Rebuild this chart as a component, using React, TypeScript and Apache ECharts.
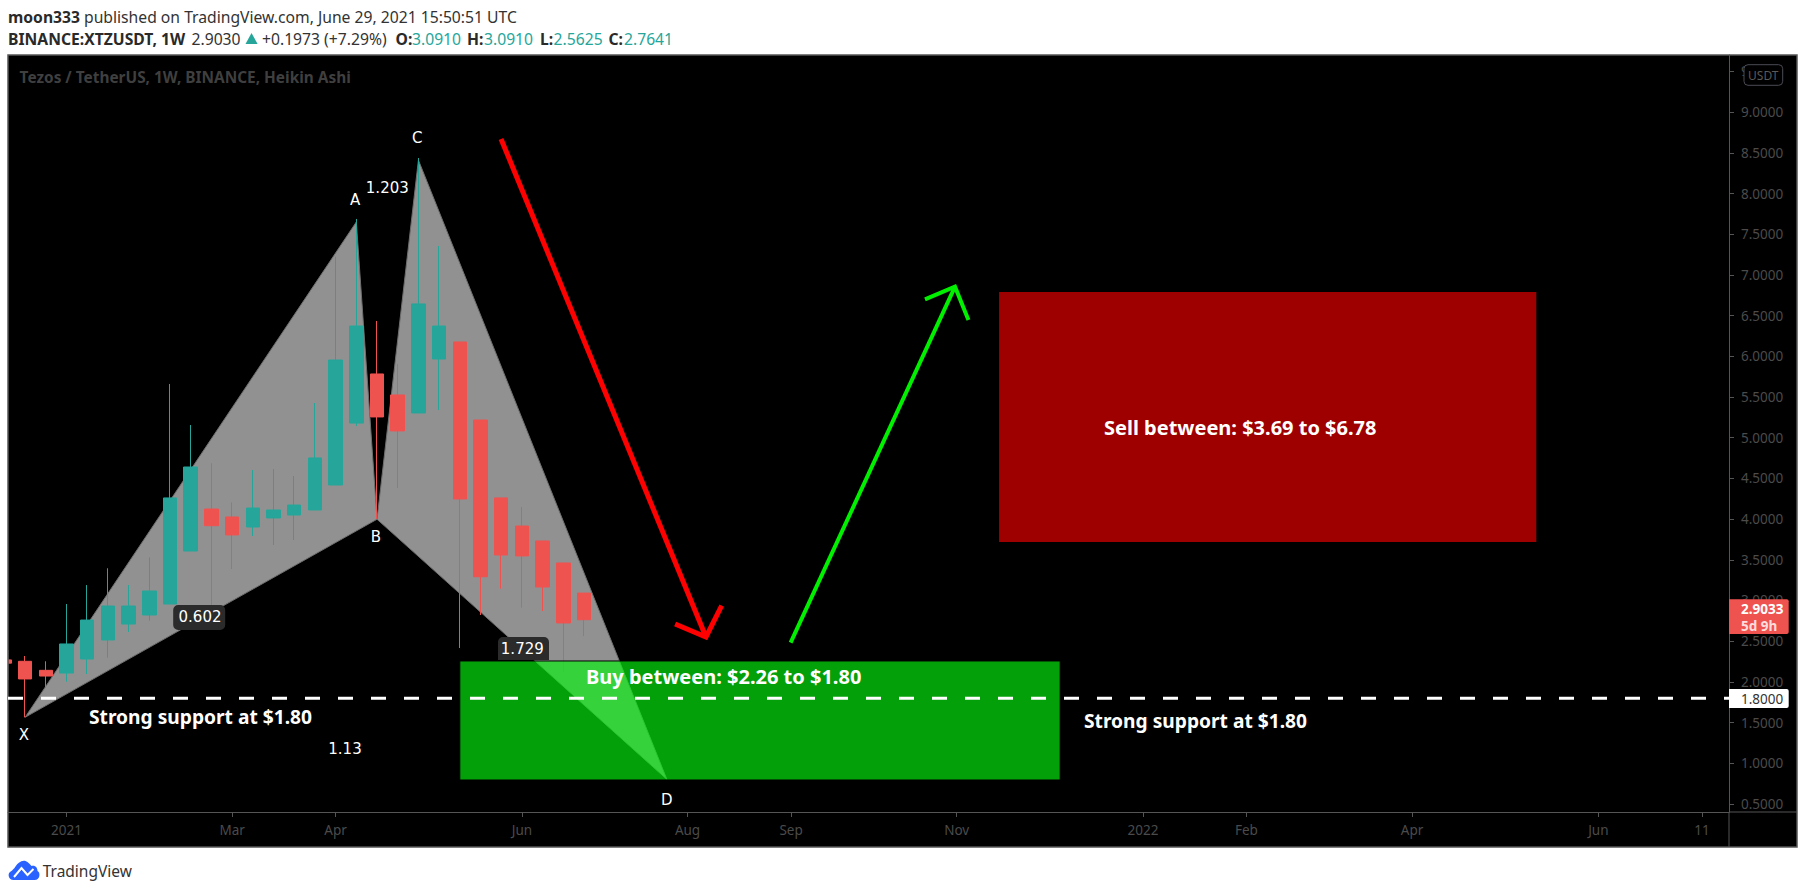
import React, { useEffect, useRef } from "react";
import * as echarts from "echarts";

// The horizontal axis counts weeks from the candle of Monday 4 January 2021 (week 0)
// Weekly Heikin Ashi candles: the first candle is three weeks before week 0
const firstWeek = -3;
const opens = [2.27, 2.253, 2.142, 2.109, 2.281, 2.515, 2.711, 2.822, 2.957, 3.608, 4.124, 4.026, 3.903, 4.014, 4.05, 4.112, 4.419, 5.18, 5.783, 5.525, 5.304, 5.967, 6.176, 5.217, 4.26, 3.915, 3.731, 3.461, 3.091];
const closes = [2.23, 2.036, 2.072, 2.466, 2.76, 2.932, 2.932, 3.117, 4.26, 4.64, 3.919, 3.805, 4.136, 4.112, 4.173, 4.751, 5.954, 6.372, 5.255, 5.083, 6.643, 6.372, 4.247, 3.292, 3.559, 3.547, 3.166, 2.724, 2.7641];
const lows = [2.23, 1.565, 1.934, 2.002, 2.097, 2.297, 2.613, 2.752, 2.957, 3.608, 2.908, 3.387, 3.792, 3.682, 3.743, 4.112, 4.419, 5.143, 4.002, 4.382, 5.304, 5.34, 2.416, 2.822, 3.145, 2.912, 2.871, 2.122, 2.5625];
const highs = [2.27, 2.318, 2.253, 2.957, 3.19, 3.396, 3.19, 3.531, 5.66, 5.156, 4.686, 4.206, 4.603, 4.615, 4.529, 5.426, 7.224, 7.687, 6.434, 5.906, 8.436, 7.355, 6.176, 5.217, 4.26, 4.149, 3.731, 3.461, 3.091];

// Harmonic pattern pivots [week, price]
const pivotX = [-2, 1.565];
const pivotA = [14, 7.65];
const pivotB = [15, 3.998];
const pivotC = [17, 8.41];
const pivotD = [29, 0.803];

// Zones [fromWeek, toWeek, lowPrice, highPrice]
const buyZone = [19, 48, 0.795, 2.257];
const sellZone = [45.05, 71, 3.719, 6.79];

// Arrows, as lists of [week, price]
const redArrowShaft = [[20.99, 8.67], [30.89, 2.552]];
const redArrowHead = [[29.4, 2.711], [30.89, 2.552], [31.65, 2.936]];
const greenArrowShaft = [[34.98, 2.482], [42.92, 6.855]];
const greenArrowHead = [[41.47, 6.7], [42.92, 6.855], [43.57, 6.446]];

const supportLevel = 1.8;
const xMin = -2.826;
const xMax = 80.31;
const yMin = 0.4017;
const yMax = 9.7015;
const priceTicks = [0.5, 1, 1.5, 2, 2.5, 3, 3.5, 4, 4.5, 5, 5.5, 6, 6.5, 7, 7.5, 8, 8.5, 9, 9.5];
const timeTicks: [number, string][] = [
  [0, "2021"], [8, "Mar"], [13, "Apr"], [22, "Jun"], [30, "Aug"], [35, "Sep"], [43, "Nov"],
  [52, "2022"], [57, "Feb"], [65, "Apr"], [74, "Jun"], [79, "11"],
];

const TEAL = "#26a69a";
const RED = "#ef5350";
const AXIS = "#555555";
const AXIS_TEXT = "#4b4b4b";
const UI_FONT = '"Noto Sans", sans-serif';
const NOTE_FONT = '"DejaVu Sans", sans-serif';
const HEAD = 15.7;

const LOGO = "M6 20 C1 20 -1 13 4 11 C5 10 6 9 7 8 C10 3 14 0 18 1 C21 2 22 4 24 6 C28 5 30 8 30 11 C33 12 33 20 27 20 Z";
echarts.graphic.registerShape("tvLogo", echarts.graphic.extendPath(LOGO, {}) as any);

const txt = (text: string, x: number, y: number, fill: string, fontSize: number, fontWeight: any = "normal", fontFamily = UI_FONT, align: any = "left") => ({
  type: "text",
  x,
  y,
  z: 60,
  silent: true,
  style: { text, fill, fontSize, fontWeight, fontFamily, align, verticalAlign: "middle" },
});

const polygonSeries = (points: number[][], fill: string, z: number) => ({
  type: "custom",
  coordinateSystem: "cartesian2d",
  z,
  clip: true,
  silent: true,
  data: points,
  encode: { x: 0, y: 1 },
  renderItem: (params: any, api: any) => {
    if (params.dataIndex !== 0) return null;
    return {
      type: "polygon",
      shape: { points: points.map((p) => api.coord(p)) },
      style: { fill, stroke: "#6e6e6e", lineWidth: 1 },
    };
  },
});

const zoneSeries = (zone: number[], fill: string, stroke: string | null, z: number) => ({
  type: "custom",
  coordinateSystem: "cartesian2d",
  z,
  silent: true,
  data: [[zone[0], zone[2], zone[1], zone[3]]],
  encode: { x: [0, 2], y: [1, 3] },
  renderItem: (_: any, api: any) => {
    const a = api.coord([api.value(0), api.value(3)]);
    const b = api.coord([api.value(2), api.value(1)]);
    return {
      type: "rect",
      shape: { x: a[0], y: a[1], width: b[0] - a[0], height: b[1] - a[1] },
      style: stroke ? { fill, stroke, lineWidth: 1 } : { fill },
    };
  },
});

const lineSeries = (points: number[][], color: string, width: number, z: number, dash?: number[]) => ({
  type: "line",
  z,
  silent: true,
  symbol: "none",
  data: points,
  lineStyle: { color, width, type: dash || "solid", cap: "butt", join: "miter" },
});

export default function App() {
  const ref = useRef<HTMLDivElement>(null);
  useEffect(() => {
    document.body.style.margin = "0";
    const chart = echarts.init(ref.current!, null, { renderer: "svg" });
    chart.setOption({
      animation: false,
      backgroundColor: "#ffffff",
      grid: { left: 8, top: 55, width: 1721, height: 757, containLabel: false },
      xAxis: {
        type: "value",
        min: xMin,
        max: xMax,
        splitLine: { show: false },
        axisLine: { show: true, onZero: false, lineStyle: { color: AXIS, width: 1 } },
        axisTick: { show: true, length: 5, lineStyle: { color: AXIS }, customValues: timeTicks.map((t) => t[0]) },
        axisLabel: {
          color: AXIS_TEXT,
          fontSize: 13.5,
          fontFamily: UI_FONT,
          margin: 11,
          customValues: timeTicks.map((t) => t[0]),
          formatter: (v: number) => {
            const hit = timeTicks.find((t) => t[0] === v);
            return hit ? hit[1] : "";
          },
        },
      },
      yAxis: {
        type: "value",
        position: "right",
        min: yMin,
        max: yMax,
        splitLine: { show: false },
        axisLine: { show: true, onZero: false, lineStyle: { color: AXIS, width: 1 } },
        axisTick: { show: true, length: 5, lineStyle: { color: AXIS }, customValues: priceTicks },
        axisLabel: {
          color: AXIS_TEXT,
          fontSize: 13.5,
          fontFamily: UI_FONT,
          margin: 12,
          customValues: priceTicks,
          formatter: (v: number) => v.toFixed(4),
        },
      },
      series: [
        polygonSeries([pivotX, pivotA, pivotB], "#919191", 1),
        polygonSeries([pivotB, pivotC, pivotD], "#919191", 1),
        {
          type: "candlestick",
          z: 3,
          silent: true,
          barWidth: 14,
          data: opens.map((o, i) => [firstWeek + i, o, closes[i], lows[i], highs[i]]),
          itemStyle: { color: TEAL, color0: RED, borderColor: TEAL, borderColor0: RED, borderWidth: 1 },
        },
        zoneSeries(buyZone, "rgba(6,246,15,0.65)", "#000000", 5),
        zoneSeries(sellZone, "#9e0000", null, 5),
        lineSeries(redArrowShaft, "#ff0000", 5, 6),
        lineSeries(redArrowHead, "#ff0000", 5, 6),
        lineSeries(greenArrowShaft, "#00f000", 4, 6),
        lineSeries(greenArrowHead, "#00f000", 4, 6),
        lineSeries([[xMin, supportLevel], [xMax, supportLevel]], "#ffffff", 3, 7, [15, 18]),
      ],
      graphic: {
        elements: [
          { type: "rect", z: -1, silent: true, shape: { x: 8, y: 55, width: 1789, height: 792 }, style: { fill: "#000000", stroke: AXIS, lineWidth: 1.5 } },
          { type: "line", z: 1, silent: true, shape: { x1: 1729, y1: 812, x2: 1797, y2: 812 }, style: { stroke: AXIS, lineWidth: 1 } },
          { type: "line", z: 1, silent: true, shape: { x1: 1729, y1: 812, x2: 1729, y2: 847 }, style: { stroke: AXIS, lineWidth: 1 } },
          // the page margin left of the frame: the oldest candle is cut off by the frame
          { type: "rect", z: 50, silent: true, shape: { x: 0, y: 650, width: 8, height: 30 }, style: { fill: "#ffffff" } },
          { type: "line", z: 51, silent: true, shape: { x1: 8, y1: 650, x2: 8, y2: 680 }, style: { stroke: AXIS, lineWidth: 1.5 } },

          txt("moon333", 8, 17, "#2a2a2a", HEAD, "bold"),
          txt("published on TradingView.com, June 29, 2021 15:50:51 UTC", 84, 17, "#333333", HEAD),
          txt("BINANCE:XTZUSDT, 1W", 8, 39, "#2a2a2a", HEAD, "bold"),
          txt("2.9030", 191.5, 39, "#333333", HEAD),
          { type: "polygon", z: 60, silent: true, shape: { points: [[245.5, 44], [257.6, 44], [251.5, 33]] }, style: { fill: TEAL } },
          txt("+0.1973 (+7.29%)", 262, 39, "#333333", HEAD),
          txt("O:", 395.5, 39, "#2a2a2a", HEAD, "bold"),
          txt("3.0910", 412, 39, TEAL, HEAD),
          txt("H:", 467, 39, "#2a2a2a", HEAD, "bold"),
          txt("3.0910", 484, 39, TEAL, HEAD),
          txt("L:", 540, 39, "#2a2a2a", HEAD, "bold"),
          txt("2.5625", 553.6, 39, TEAL, HEAD),
          txt("C:", 608.5, 39, "#2a2a2a", HEAD, "bold"),
          txt("2.7641", 624, 39, TEAL, HEAD),

          txt("Tezos / TetherUS, 1W, BINANCE, Heikin Ashi", 19.6, 77, "#3f3f3f", 15.4, "bold"),

          txt("A", 355, 200, "#ffffff", 15, "normal", NOTE_FONT, "center"),
          txt("C", 417.3, 138.3, "#ffffff", 15, "normal", NOTE_FONT, "center"),
          txt("1.203", 387.3, 188, "#ffffff", 15, "normal", NOTE_FONT, "center"),
          txt("B", 376, 536.7, "#ffffff", 15, "normal", NOTE_FONT, "center"),
          txt("X", 24, 734.7, "#ffffff", 15, "normal", NOTE_FONT, "center"),
          txt("D", 666.7, 799.7, "#ffffff", 15, "normal", NOTE_FONT, "center"),
          txt("1.13", 345, 748.7, "#ffffff", 15, "normal", NOTE_FONT, "center"),
          { type: "rect", z: 59, silent: true, shape: { x: 173.2, y: 605, width: 52, height: 25, r: 5 }, style: { fill: "#2b2b2b" } },
          txt("0.602", 200, 616.7, "#ffffff", 15, "normal", NOTE_FONT, "center"),
          { type: "rect", z: 59, silent: true, shape: { x: 498, y: 637, width: 51, height: 23, r: [5, 5, 0, 0] }, style: { fill: "#2b2b2b" } },
          txt("1.729", 522.3, 648.7, "#ffffff", 15, "normal", NOTE_FONT, "center"),

          txt("Strong support at $1.80", 89, 716.7, "#ffffff", 19.2, "bold"),
          txt("Strong support at $1.80", 1084, 720, "#ffffff", 19.2, "bold"),
          txt("Buy between: $2.26 to $1.80", 586, 676.7, "#ffffff", 20, "bold"),
          txt("Sell between: $3.69 to $6.78", 1104, 427, "#ffffff", 20, "bold"),

          { type: "rect", z: 58, silent: true, shape: { x: 1744, y: 64.7, width: 38.7, height: 20.6, r: 4 }, style: { fill: "#000000", stroke: "#4a4a55", lineWidth: 1 } },
          txt("USDT", 1763.3, 75, "#5a5a5a", 12, "normal", UI_FONT, "center"),
          { type: "rect", z: 58, silent: true, shape: { x: 1729, y: 599.3, width: 59.7, height: 34.7, r: [0, 2, 2, 0] }, style: { fill: RED } },
          txt("2.9033", 1741, 609, "#ffffff", 13.5, "bold"),
          txt("5d 9h", 1741, 625.7, "#ffdcdc", 13.5, "bold"),
          { type: "rect", z: 58, silent: true, shape: { x: 1729, y: 689, width: 59.7, height: 19, r: [0, 2, 2, 0] }, style: { fill: "#ffffff" } },
          txt("1.8000", 1741, 698.5, "#333333", 13.5),

          { type: "tvLogo", z: 60, silent: true, x: 7.5, y: 860, style: { fill: "#2962ff" } },
          { type: "polyline", z: 61, silent: true, shape: { points: [[14, 877], [21.5, 868], [27.5, 875], [33.5, 869]] }, style: { stroke: "#ffffff", fill: "none", lineWidth: 2 } },
          txt("TradingView", 42.7, 871, "#333333", 15.5),
        ],
      },
    } as any);
    return () => chart.dispose();
  }, []);
  return <div ref={ref} style={{ position: "absolute", left: 0, top: 0, width: 1805, height: 894 }} />;
}
